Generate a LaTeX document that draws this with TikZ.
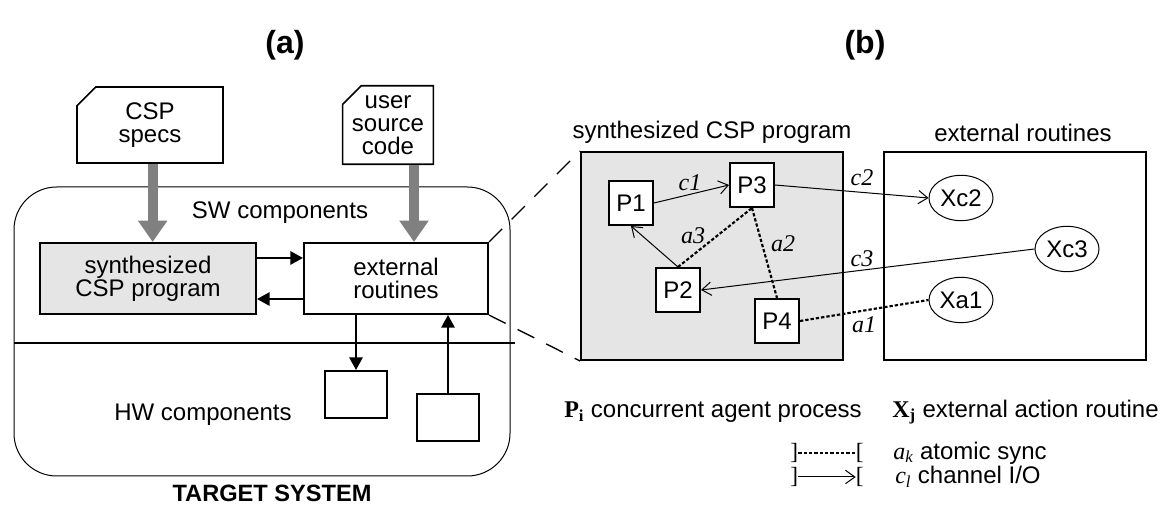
\documentclass[tikz,border=0pt]{standalone}
\usepackage{fontspec}
\setmainfont{Liberation Sans}
\newfontfamily\timesfont{Liberation Serif}
\usetikzlibrary{arrows.meta,shapes.geometric,shapes.misc}
\tikzstyle{box}=[draw=black,line width=1.5pt,inner sep=0pt,align=center]
\tikzstyle{procbox}=[box,fill=white,minimum width=33pt,minimum height=33pt]
\tikzstyle{docbox}=[draw=black,line width=1.2pt,fill=white,align=center,
                    chamfered rectangle,chamfered rectangle corners=north west,
                    chamfered rectangle xsep=7pt,chamfered rectangle ysep=7pt,
                    inner sep=0pt,minimum height=57pt]
\tikzstyle{xroutine}=[ellipse,draw=black,line width=0.75pt,fill=white,
                      inner sep=0pt,minimum width=48pt,minimum height=34pt]
\tikzstyle{chan}=[line width=0.75pt,-{Straight Barb[length=7pt,width=10pt]}]
\tikzstyle{sync}=[line width=1.6pt,dash pattern=on 2.5pt off 1.5pt]
\tikzstyle{ctrl}=[line width=1.5pt,-{Triangle[length=9.5pt,width=10pt]}]
\tikzstyle{feed}=[draw=black!50,line width=7.5pt,-{Triangle[length=16pt,width=21pt]}]
\tikzstyle{zoomline}=[line width=1pt,dash pattern=on 14pt off 10pt]
\tikzstyle{lbl}=[font=\timesfont\itshape\fontsize{18pt}{20pt}\selectfont]
\tikzstyle{txt}=[inner sep=0pt]
\tikzstyle{brk}=[inner sep=0pt,font=\timesfont\fontsize{17.5pt}{18pt}\selectfont]

\begin{document}
\begin{tikzpicture}[x=0.75pt,y=-0.75pt,
    every node/.style={font=\fontsize{18pt}{17.5pt}\selectfont}]
    \newcommand{\titlefont}{\bfseries\fontsize{24pt}{26pt}\selectfont}
    \useasboundingbox (0,0) rectangle (1168,505);

    % (a) target system
    \node (tita) at (285,45) [font=\titlefont] {(a)};
    \node (target) at (262,331.5) [draw,line width=0.75pt,rounded corners=32pt,
          minimum width=372pt,minimum height=216.75pt] {};
    \draw[line width=1.5pt] (14,343) -- (515,343);
    \node (swlbl) at (280,213) [txt] {SW components};
    \node (hwlbl) at (203,415) [txt] {HW components};
    \node (tslbl) at (272,493) [txt,font=\bfseries\fontsize{17.7pt}{20pt}\selectfont] {TARGET SYSTEM};

    \node (cspdoc) at (150,125) [docbox,minimum width=109.5pt] {CSP\\specs};
    \node (userdoc) at (388,125) [docbox,minimum width=67.5pt] {user\\source\\code};
    \node (cspbox) at (148,278.5) [box,fill=black!10,minimum width=162pt,
          minimum height=53.25pt] {synthesized\\CSP program};
    \node (extbox) at (396,278.5) [box,minimum width=138pt,
          minimum height=53.25pt] {external\\routines};
    \node (hw1) at (356,394.5) [box,minimum width=46.5pt,minimum height=35.25pt] {};
    \node (hw2) at (448,417.5) [box,minimum width=46.5pt,minimum height=35.25pt] {};

    \draw[feed] ([xshift=2pt]cspdoc.south) -- ([xshift=2pt]cspdoc.south |- cspbox.north);
    \draw[feed] ([xshift=19.5pt]userdoc.south) -- ([xshift=19.5pt]userdoc.south |- extbox.north);
    \draw[ctrl] ([yshift=15.4pt]cspbox.east) -- ([yshift=15.4pt]extbox.west);
    \draw[ctrl] ([yshift=-15.4pt]extbox.west) -- ([yshift=-15.4pt]cspbox.east);
    \draw[ctrl] (extbox.south -| hw1.north) -- (hw1.north);
    \draw[ctrl] (hw2.north) -- (hw2.north |- extbox.south);

    % (b) program and routines
    \node (titb) at (865,45) [font=\titlefont] {(b)};
    \node (progbox) at (712,256) [box,fill=black!10,minimum width=196.5pt,
          minimum height=156pt] {};
    \node (routbox) at (1015,256) [box,minimum width=196.5pt,
          minimum height=156pt] {};
    \node (proglbl) at (712,132) [txt] {synthesized CSP program};
    \node (routlbl) at (1023,133) [txt] {external routines};
    \draw[zoomline] (extbox.north east) -- (progbox.north west);
    \draw[zoomline] (extbox.south east) -- (progbox.south west);

    \node (p1) at (631,203) [procbox] {P1};
    \node (p3) at (752,185) [procbox] {P3};
    \node (p2) at (678,290) [procbox] {P2};
    \node (p4) at (777,321) [procbox] {P4};
    \node (xc2) at (961,198) [xroutine] {Xc2};
    \node (xc3) at (1067,249) [xroutine] {Xc3};
    \node (xa1) at (961,300) [xroutine] {Xa1};

    \draw[chan] (p1.east) -- (p3.west);
    \draw[chan] (p2.north) -- (p1.south);
    \draw[chan] (p3.east) -- (xc2.west);
    \draw[chan] (xc3.west) -- (p2.east);
    \draw[sync] (p2.north) -- (p3.south);
    \draw[sync] (p3.south) -- (p4.north);
    \draw[sync] (p4.east) -- (xa1.west);

    \node (c1lbl) at (690,183) [lbl] {c1};
    \node (a3lbl) at (693,236) [lbl] {a3};
    \node (a2lbl) at (783,244) [lbl] {a2};
    \node (c2lbl) at (862,178) [lbl] {c2};
    \node (c3lbl) at (862,259) [lbl] {c3};
    \node (a1lbl) at (864,325) [lbl] {a1};

    % legend
    \node (pleg) at (564,412) [txt,anchor=west]
          {{\timesfont\bfseries P\textsubscript{i}} concurrent agent process};
    \node (xleg) at (892,412) [txt,anchor=west]
          {{\timesfont\bfseries X\textsubscript{j}} external action routine};
    \node (sl) at (790,453) [brk,anchor=west] {]};
    \node (sr) at (864,453) [brk,anchor=east] {[};
    \node (cl) at (790,477) [brk,anchor=west] {]};
    \node (cr) at (864,477) [brk,anchor=east] {[};
    \draw[sync,line width=1.3pt] (sl) -- (sr);
    \draw[chan] (cl) -- (cr);
    \node (akleg) at (893,453) [txt,anchor=west]
          {{\timesfont\itshape a\textsubscript{k}} atomic sync};
    \node (clleg) at (895,477) [txt,anchor=west]
          {{\timesfont\itshape c\textsubscript{l}} channel I/O};
  \end{tikzpicture}
\end{document}
